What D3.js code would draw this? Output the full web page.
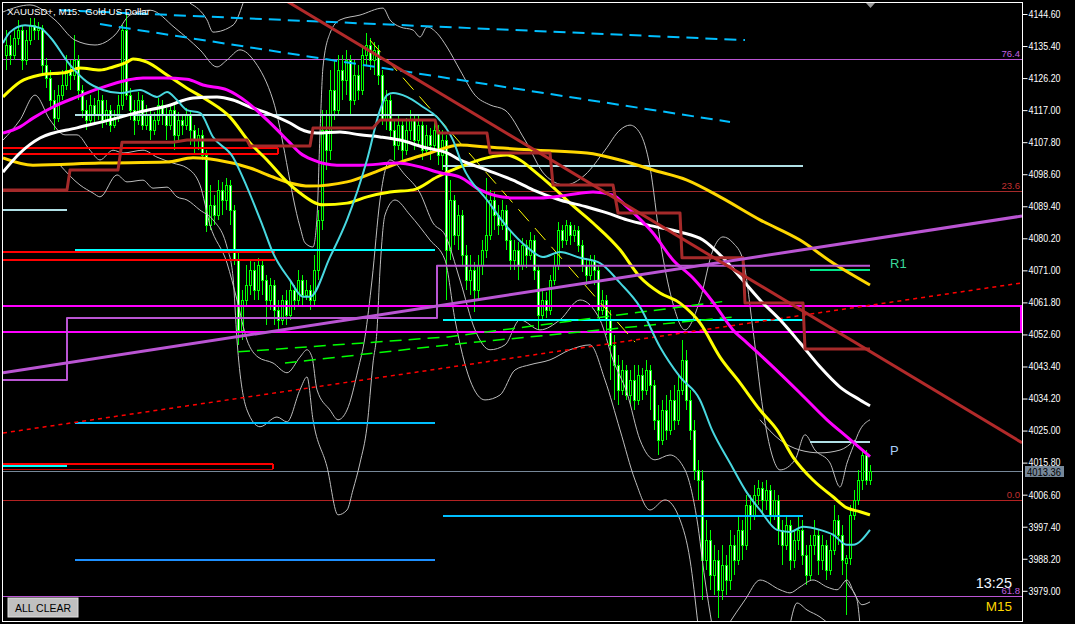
<!DOCTYPE html>
<html><head><meta charset="utf-8">
<script src="https://cdn.jsdelivr.net/npm/d3@7"></script>
<style>body{margin:0;background:#000;overflow:hidden}svg{display:block}</style>
</head><body>
<svg id="c" width="1075" height="624"></svg>
<script>
// ---- DATA ----
const title = "XAUUSD+, M15:  Gold US Dollar";
const priceTicks = [4144.60,4135.40,4126.20,4117.00,4107.80,4098.60,4089.40,4080.20,4071.00,4061.80,4052.60,4043.40,4034.20,4025.00,4015.80,4006.60,3997.40,3988.20,3979.00];
const lastPrice = 4013.36;
// candles: [open, high, low, close]
const candles = [
[4132.8,4140.0,4128.5,4135.7],[4135.7,4138.6,4130.0,4132.8],[4132.8,4140.0,4131.4,4137.7],[4137.7,4142.9,4135.7,4140.0],
[4140.0,4141.4,4128.5,4131.4],[4131.4,4140.0,4130.0,4137.1],[4137.1,4143.4,4135.7,4141.4],[4141.4,4143.4,4137.1,4140.0],
[4140.0,4142.3,4137.1,4140.6],[4140.6,4141.4,4127.1,4130.0],[4130.0,4132.0,4123.3,4126.2],[4126.2,4128.5,4117.0,4119.9],
[4119.9,4122.8,4111.3,4114.7],[4114.7,4124.2,4113.6,4121.3],[4121.3,4128.5,4119.9,4124.2],[4124.2,4132.8,4122.8,4128.5],
[4128.5,4131.4,4122.8,4127.1],[4127.1,4138.6,4125.6,4131.4],[4131.4,4132.8,4119.9,4122.8],[4122.8,4124.2,4114.7,4117.0],
[4117.0,4119.9,4111.3,4114.2],[4114.2,4121.3,4112.7,4118.5],[4118.5,4120.5,4113.6,4115.6],[4115.6,4122.8,4114.2,4119.9],
[4119.9,4121.3,4111.9,4114.2],[4114.2,4119.9,4112.7,4117.0],[4117.0,4118.5,4110.7,4112.7],[4112.7,4117.0,4111.9,4114.7],
[4114.7,4121.3,4113.6,4118.5],[4118.5,4141.4,4117.0,4140.0],[4140.0,4144.3,4119.9,4121.3],[4121.3,4123.3,4114.2,4117.0],
[4117.0,4119.9,4109.9,4114.2],[4114.2,4122.2,4112.7,4119.9],[4119.9,4121.3,4111.3,4112.7],[4112.7,4118.5,4111.3,4115.6],
[4115.6,4117.0,4108.4,4111.3],[4111.3,4116.5,4109.9,4114.2],[4114.2,4120.5,4112.7,4118.5],[4118.5,4119.9,4112.7,4115.6],
[4115.6,4117.6,4108.4,4112.7],[4112.7,4118.5,4111.3,4117.0],[4117.0,4118.5,4105.5,4109.9],[4109.9,4116.5,4108.4,4114.2],
[4114.2,4115.6,4109.9,4112.7],[4112.7,4117.6,4111.3,4115.6],[4115.6,4117.0,4107.0,4111.3],[4111.3,4112.7,4104.1,4108.4],
[4108.4,4111.9,4105.5,4109.9],[4109.9,4111.3,4102.7,4104.1],[4104.1,4105.5,4082.0,4084.0],[4084.0,4095.5,4082.6,4089.8],
[4089.8,4092.6,4084.0,4086.9],[4086.9,4096.9,4085.5,4094.1],[4094.1,4096.4,4086.9,4091.2],[4091.2,4097.5,4088.3,4095.5],
[4095.5,4096.9,4084.0,4088.3],[4088.3,4089.8,4072.6,4074.0],[4074.0,4076.9,4049.6,4053.9],[4053.9,4065.4,4051.0,4062.5],
[4062.5,4072.6,4061.1,4066.8],[4066.8,4074.0,4063.9,4071.1],[4071.1,4073.4,4062.5,4065.4],[4065.4,4074.6,4062.5,4072.6],
[4072.6,4074.0,4063.9,4068.2],[4068.2,4069.7,4055.3,4062.5],[4062.5,4068.8,4059.6,4066.8],[4066.8,4068.2,4055.3,4059.6],
[4059.6,4062.5,4053.9,4056.8],[4056.8,4063.9,4055.3,4062.5],[4062.5,4065.4,4055.3,4058.2],[4058.2,4067.7,4056.8,4065.4],
[4065.4,4066.8,4059.6,4062.5],[4062.5,4071.1,4061.1,4068.2],[4068.2,4069.7,4061.1,4063.9],[4063.9,4068.2,4062.5,4065.4],
[4065.4,4066.8,4059.6,4062.5],[4062.5,4075.4,4061.1,4071.1],[4071.1,4088.3,4068.2,4085.5],[4085.5,4117.0,4082.6,4111.3],
[4111.3,4117.0,4099.8,4105.5],[4105.5,4128.5,4102.7,4122.8],[4122.8,4131.4,4114.2,4117.0],[4117.0,4132.8,4115.6,4128.5],
[4128.5,4132.8,4119.9,4125.6],[4125.6,4134.3,4121.3,4131.4],[4131.4,4132.8,4115.6,4119.9],[4119.9,4131.4,4118.5,4127.1],
[4127.1,4130.0,4119.9,4122.8],[4122.8,4135.7,4121.3,4132.8],[4132.8,4139.1,4130.0,4135.7],[4135.7,4137.7,4128.5,4131.4],
[4131.4,4136.5,4127.1,4134.3],[4134.3,4135.7,4124.2,4127.1],[4127.1,4128.5,4112.7,4114.2],[4114.2,4122.8,4111.3,4119.9],
[4119.9,4121.3,4108.4,4111.3],[4111.3,4114.2,4102.7,4107.0],[4107.0,4115.6,4105.5,4112.7],[4112.7,4114.2,4102.7,4105.5],
[4105.5,4114.7,4104.1,4111.3],[4111.3,4117.0,4108.4,4114.2],[4114.2,4115.6,4105.5,4108.4],[4108.4,4115.6,4107.0,4112.7],
[4112.7,4114.2,4102.7,4105.5],[4105.5,4112.7,4104.1,4109.9],[4109.9,4111.9,4102.7,4107.0],[4107.0,4114.2,4105.5,4111.3],
[4111.3,4112.7,4101.2,4104.1],[4104.1,4111.3,4099.8,4108.4],[4108.4,4109.9,4062.5,4076.9],[4076.9,4096.9,4074.0,4091.2],
[4091.2,4092.6,4078.3,4081.2],[4081.2,4089.8,4076.9,4086.9],[4086.9,4088.3,4072.6,4075.4],[4075.4,4078.3,4065.4,4068.2],
[4068.2,4075.4,4063.9,4071.1],[4071.1,4073.4,4059.0,4065.4],[4065.4,4075.4,4062.5,4072.6],[4072.6,4079.7,4069.7,4076.9],
[4076.9,4097.5,4074.6,4081.2],[4081.2,4094.1,4079.7,4091.2],[4091.2,4093.5,4082.6,4086.9],[4086.9,4089.8,4081.2,4084.0],
[4084.0,4091.2,4082.6,4088.3],[4088.3,4089.8,4076.9,4079.7],[4079.7,4082.6,4071.1,4074.0],[4074.0,4079.7,4071.1,4076.9],
[4076.9,4079.1,4068.2,4072.6],[4072.6,4080.3,4071.1,4078.3],[4078.3,4079.7,4071.7,4075.4],[4075.4,4082.0,4074.0,4079.7],
[4079.7,4081.2,4068.2,4071.1],[4071.1,4072.6,4053.9,4058.2],[4058.2,4065.4,4056.8,4062.5],[4062.5,4064.8,4057.3,4059.6],
[4059.6,4069.7,4058.2,4068.2],[4068.2,4075.4,4066.8,4072.6],[4072.6,4084.9,4071.1,4082.6],[4082.6,4084.0,4077.4,4079.7],
[4079.7,4085.5,4078.3,4084.0],[4084.0,4084.9,4078.3,4081.2],[4081.2,4084.0,4079.1,4082.6],[4082.6,4083.7,4076.3,4078.3],
[4078.3,4079.7,4070.5,4072.6],[4072.6,4074.6,4066.8,4069.7],[4069.7,4075.4,4068.2,4074.0],[4074.0,4075.4,4066.8,4071.1],
[4071.1,4072.6,4057.3,4059.6],[4059.6,4065.4,4058.2,4062.5],[4062.5,4063.9,4052.5,4056.8],[4056.8,4059.6,4039.5,4049.6],
[4049.6,4052.5,4033.8,4043.9],[4043.9,4046.7,4032.4,4036.7],[4036.7,4045.3,4035.2,4042.4],[4042.4,4043.9,4033.8,4035.2],
[4035.2,4042.4,4032.4,4039.5],[4039.5,4043.9,4030.9,4033.8],[4033.8,4043.9,4032.4,4041.0],[4041.0,4043.0,4033.8,4036.7],
[4036.7,4045.3,4035.2,4042.4],[4042.4,4043.9,4030.9,4038.1],[4038.1,4039.5,4025.2,4028.1],[4028.1,4032.4,4018.0,4022.3],
[4022.3,4033.8,4020.9,4030.9],[4030.9,4035.2,4022.3,4025.2],[4025.2,4036.7,4023.8,4033.8],[4033.8,4038.1,4025.2,4028.1],
[4028.1,4041.0,4026.6,4036.7],[4036.7,4051.0,4035.2,4045.3],[4045.3,4048.2,4030.9,4033.8],[4033.8,4036.7,4022.3,4025.2],
[4025.2,4028.1,4010.8,4013.7],[4013.7,4016.6,4005.1,4010.8],[4010.8,4013.7,3976.4,3987.9],[3987.9,3999.4,3985.0,3993.6],
[3993.6,3996.5,3979.3,3983.6],[3983.6,3992.2,3977.8,3987.9],[3987.9,3990.8,3971.2,3979.3],[3979.3,3992.2,3976.4,3986.5],
[3986.5,3989.3,3977.8,3982.1],[3982.1,3996.5,3979.3,3992.2],[3992.2,3995.1,3983.6,3987.9],[3987.9,4000.8,3986.5,3996.5],
[3996.5,3999.4,3987.9,3992.2],[3992.2,4006.5,3990.8,4003.7],[4003.7,4006.5,3996.5,4000.8],[4000.8,4009.4,3999.4,4006.5],
[4006.5,4010.8,4003.7,4008.6],[4008.6,4010.3,4000.8,4005.1],[4005.1,4010.8,4002.2,4008.0],[4008.0,4009.4,3997.9,4000.8],
[4000.8,4008.0,3999.4,4005.1],[4005.1,4006.5,3992.2,3996.5],[3996.5,3999.4,3986.5,3992.2],[3992.2,4000.8,3990.8,3997.9],
[3997.9,3999.4,3985.0,3987.9],[3987.9,3996.5,3985.6,3993.6],[3993.6,4000.8,3990.8,3996.5],[3996.5,3999.4,3986.5,3989.3],
[3989.3,3992.2,3980.7,3983.6],[3983.6,3995.1,3982.1,3992.2],[3992.2,3999.4,3989.3,3995.1],[3995.1,3996.5,3983.6,3987.9],
[3987.9,3995.1,3985.0,3992.2],[3992.2,3993.6,3982.1,3985.0],[3985.0,3995.1,3983.6,3990.8],[3990.8,4003.7,3989.3,3999.4],
[3999.4,4000.8,3992.2,3995.1],[3995.1,3997.9,3983.6,3987.9],[3987.0,3989.3,3972.1,3988.4],[3988.4,4003.7,3986.5,4000.8],
[4000.8,4008.0,3999.4,4005.1],[4005.1,4013.7,4003.7,4010.8],[4010.8,4019.4,4008.0,4018.0],[4018.0,4019.4,4009.4,4010.8],
[4010.8,4015.1,4009.4,4013.36]
];
// moving averages: [bar index, price]
const maCyan = [[-0.75,4136.3],[1,4139.4],[4.75,4141.4],[8.5,4140.6],[11,4138.0],[16,4130.0],[20.25,4125.1],[24.25,4122.8],[28.5,4121.9],[33.5,4122.8],[37.75,4120.8],[40.25,4122.2],[42.75,4119.9],[45.25,4117.0],[48.5,4116.2],[51.75,4109.3],[56.75,4103.5],[60.25,4094.9],[64.25,4083.5],[66.75,4076.0],[71,4068.2],[74.25,4063.4],[76,4063.4],[81,4074.8],[85.25,4085.5],[90.25,4102.7],[93.5,4117.0],[95.25,4121.3],[96.75,4121.9],[100.25,4120.8],[104.25,4117.9],[107.75,4115.0],[111.75,4108.4],[114.25,4100.7],[120.25,4091.2],[125.25,4083.5],[130.25,4077.7],[134.25,4074.8],[138.5,4076.3],[143.5,4074.6],[148.5,4073.1],[153.5,4067.4],[158.5,4060.5],[163.5,4049.0],[168.5,4040.4],[173.5,4033.8],[176.5,4025.2],[181,4015.7],[185.25,4007.1],[188.5,4002.2],[192.75,3996.5],[196,3995.9],[199.25,3997.4],[203.5,3996.5],[206.75,3995.1],[210.25,3992.2],[211.75,3992.2],[216,3996.5]];
const maYellow = [[-0.75,4120.8],[3.5,4125.1],[8.5,4127.1],[15.25,4127.9],[18.5,4129.1],[23.5,4128.5],[26.75,4129.4],[30.25,4130.8],[31.75,4131.7],[35.25,4130.8],[40.25,4127.1],[45.25,4123.3],[50.25,4119.9],[56,4115.0],[61,4107.6],[65.25,4102.7],[70.25,4096.4],[73.5,4093.2],[79.25,4089.8],[85.25,4090.3],[90.25,4092.1],[96,4093.5],[101.75,4094.1],[107.75,4097.8],[113.5,4100.7],[120.25,4103.3],[125.25,4104.1],[128.5,4102.7],[131.75,4099.8],[136.75,4094.9],[141,4090.3],[146.75,4084.6],[153.5,4076.9],[158.5,4069.1],[163.5,4064.5],[168.5,4061.6],[173.5,4055.9],[178.5,4046.1],[183.5,4038.7],[188.5,4030.9],[192.75,4025.2],[196.75,4017.4],[201.75,4010.8],[206.75,4006.0],[210.25,4002.8],[213.5,4001.7],[216,4000.8]];
const maGold = [[-0.75,4103.3],[6.75,4101.2],[23.5,4101.8],[40.25,4102.1],[46.75,4103.3],[52.75,4102.7],[61,4100.4],[66.75,4097.8],[71,4096.1],[76,4095.2],[85.25,4096.4],[93.5,4099.8],[100.25,4102.7],[106,4104.7],[113.5,4107.0],[120.25,4106.4],[132.75,4105.5],[145.25,4104.7],[153.5,4102.7],[161.75,4099.8],[170.25,4096.9],[178.5,4092.1],[188.5,4085.5],[198.5,4079.7],[206.75,4073.1],[216,4066.8]];
const maMagenta = [[-0.75,4110.4],[3.5,4112.2],[6.75,4114.7],[11.75,4117.9],[17.75,4120.8],[23.5,4123.3],[30.25,4125.6],[34.25,4126.2],[39.25,4126.2],[45.25,4125.9],[49.25,4124.2],[55.25,4122.8],[60.25,4119.3],[65.25,4114.2],[71,4107.6],[73.5,4104.7],[76.75,4102.7],[82.75,4101.2],[88.5,4101.2],[97.75,4101.8],[103.5,4100.7],[108.5,4099.0],[113.5,4097.8],[118.5,4094.1],[126.75,4091.8],[133.5,4091.8],[140.25,4092.6],[146.75,4093.5],[151.75,4092.6],[155.25,4089.2],[161.75,4081.7],[166.75,4074.0],[171.75,4068.8],[176.75,4061.9],[181.75,4053.9],[185.25,4050.2],[191.75,4043.3],[198.5,4035.8],[205.25,4028.1],[210.25,4023.2],[216,4017.5]];
const maWhite = [[-0.75,4099.2],[3.5,4104.7],[8.5,4109.0],[17.75,4111.9],[26,4114.2],[33.5,4116.5],[40.25,4118.2],[46.75,4120.5],[52.75,4120.8],[56.75,4119.9],[61,4117.9],[65.25,4116.2],[71,4113.3],[73.5,4111.6],[77.75,4110.4],[83.5,4110.7],[88.5,4109.9],[93.5,4109.3],[98.5,4108.4],[104.25,4106.4],[110.25,4104.7],[113.5,4102.7],[120.25,4099.8],[126.75,4096.9],[131.75,4094.1],[138.5,4091.2],[145.25,4089.2],[150.25,4087.5],[155.25,4085.5],[161.75,4083.7],[168.5,4082.0],[174.25,4079.7],[179.25,4074.6],[183.5,4069.1],[188.5,4062.5],[193.5,4056.8],[198.5,4050.2],[203.5,4043.3],[208.5,4037.5],[213.5,4033.8],[216,4032.1]];
// Bollinger-style bands (thin grey): [bar index, price]
const bandUpper = [[-0.75,4145.2],[6,4147.2],[12.25,4142.9],[17.25,4137.1],[22.25,4135.7],[27.25,4138.6],[31,4144.3],[36,4145.7],[42.25,4140.6],[48.5,4134.3],[52.75,4129.4],[55.25,4131.4],[58.5,4134.3],[62.25,4130.8],[66.75,4119.9],[73.5,4083.5],[74.75,4078.9],[76.75,4077.7],[77.75,4086.3],[78.5,4110.4],[79.25,4129.4],[81,4139.1],[83.5,4142.9],[88.5,4144.3],[94.25,4146.3],[96,4142.9],[98.5,4140.9],[101.75,4140.0],[103.5,4138.0],[105.25,4140.9],[107.75,4139.1],[110.25,4135.1],[113.5,4128.5],[117.25,4121.3],[121,4118.5],[124.75,4117.0],[129.75,4108.4],[134.75,4098.4],[139.75,4095.5],[144.75,4098.4],[149.75,4105.5],[153.5,4111.3],[156,4112.7],[158.5,4110.4],[161,4100.7],[163.5,4079.7],[166.5,4062.5],[169.75,4053.9],[173.5,4062.5],[176.75,4076.9],[179.25,4080.6],[181.75,4078.9],[184.25,4074.0],[186.75,4053.9],[189.25,4030.9],[191.5,4018.0],[193.5,4013.7],[197.25,4016.6],[199.75,4023.8],[202.25,4019.4],[206,4015.7],[208.5,4008.8],[210.25,4015.7],[211.75,4020.3],[213.5,4025.2],[216,4028.1]];
const bandUpperOuterA = [[46,4147.7],[50.25,4142.9],[51.75,4139.4],[56.75,4141.4],[59.25,4147.7]];
const bandUpperOuterB = [[188.5,4028.1],[193.5,4022.3],[198.5,4019.4],[203.5,4018.6],[208.5,4019.4],[212.25,4022.3]];
const bandLower = [[-0.75,4108.4],[3.5,4114.2],[7.25,4121.3],[11,4114.2],[14.75,4109.9],[17.75,4109.9],[21,4105.5],[23.5,4102.7],[26.75,4105.5],[29.25,4104.7],[34.25,4105.5],[37.75,4103.5],[41.75,4101.8],[45.25,4100.4],[48.5,4095.5],[51,4084.0],[55.25,4073.1],[57.75,4062.5],[60.25,4051.0],[63,4046.1],[66.75,4044.4],[70.25,4041.6],[73.5,4046.1],[75.25,4048.2],[76.5,4046.1],[77.75,4036.7],[81,4030.9],[83,4028.1],[85.25,4030.9],[88,4042.4],[89.75,4051.9],[91.5,4068.2],[93.5,4091.2],[96,4102.7],[99.75,4098.4],[103.5,4093.2],[106.75,4084.6],[109.75,4081.2],[113.5,4068.2],[117.25,4053.9],[121,4048.2],[124.75,4049.6],[128.5,4056.8],[133.5,4053.9],[138.5,4056.8],[143.5,4062.5],[148.5,4056.8],[151.75,4045.3],[155.25,4035.8],[158.5,4022.3],[162.25,4016.6],[166,4018.0],[169.75,4013.7],[172.75,3999.4],[174.75,3982.1],[176.5,3969.2]];
const bandLowerB = [[180.5,3969.2],[184.75,3976.4],[188.5,3982.1],[193.5,3979.3],[196,3978.4],[198.5,3980.1],[201.75,3982.1],[205.25,3980.1],[207.75,3979.3],[210.25,3982.1],[212.25,3977.8],[214,3975.0],[216,3975.8]];
const bandLowerOuter = [[13.5,4101.2],[18.5,4095.5],[21.75,4093.2],[23.5,4092.1],[27.75,4098.4],[30.25,4096.4],[34.25,4096.9],[36.75,4094.6],[40.25,4094.9],[42.75,4092.1],[45.25,4091.2],[48.5,4088.3],[51.75,4085.5],[55.25,4077.7],[56.75,4069.1],[57.75,4051.0],[60.25,4030.9],[63.5,4026.1],[67.75,4028.9],[70.25,4027.5],[73.5,4036.7],[75.25,4040.4],[76.75,4028.1],[80.25,4014.6],[83,4000.8],[85.25,4002.2],[86.75,4008.0],[88.5,4015.7],[90.25,4026.1],[91.75,4044.4],[92.75,4053.9],[93.5,4071.1],[94.75,4086.9],[97.25,4091.2],[101,4086.9],[106,4079.7],[109.75,4074.0],[112.25,4056.8],[116,4039.5],[119.75,4033.8],[123.5,4035.2],[127.25,4042.4],[131,4043.9],[136,4045.3],[141,4048.2],[146,4049.6],[149.75,4039.5],[153.5,4025.2],[157.25,4010.8],[161,4002.2],[164.75,4005.1],[168.5,3999.4],[171,3987.9],[173,3969.2]];
const bandLowerOuterB = [[196,3969.2],[197.75,3975.5],[200.25,3973.5],[203.5,3971.5],[206,3969.2]];
const bandLowerOuterC = [[209.75,3982.1],[211,3980.1],[212.75,3976.4],[213.5,3969.2]];
// step line (trailing level)
const stepBrown = [[-0.75,4094.1],[15.25,4094.1],[16,4099.8],[28,4099.8],[29,4107.8],[41.75,4107.8],[45.25,4108.4],[60.25,4108.4],[61,4106.7],[76,4106.7],[76.75,4111.9],[91.75,4111.9],[93.5,4114.2],[107.25,4114.2],[108,4110.4],[120.25,4110.4],[121,4104.7],[136,4104.7],[136.75,4095.5],[151.75,4095.5],[153,4087.5],[168.5,4087.5],[169,4074.6],[184.25,4074.6],[184.75,4061.6],[199.25,4061.6],[199.75,4048.4],[216,4048.4]];
const stepViolet = [[-0.75,4039.5],[15.25,4039.5],[15.25,4057.3],[107.75,4057.3],[107.75,4072.3],[216,4072.3]];
// trend lines [[i1,p1],[i2,p2]]
const trendDarkRed = [[69.75,4148.6],[254,4021.5]];
const trendViolet = [[-0.75,4041.6],[254,4086.6]];
const trendRedDotted = [[-0.75,4024.3],[254,4067.4]];
const trendBlue1 = [[13.5,4145.7],[184.75,4137.1]];
const trendBlue2 = [[23.5,4141.7],[181,4113.6]];
const trendYellowThin = [[91,4137.1],[157.25,4050.4]];
const greenDashA = [[58,4047.6],[110.5,4051.9],[180.25,4062.2]];
const greenDashB = [[69.75,4044.4],[110.5,4049.6],[181.75,4057.6]];
// horizontal levels [fromIndex, toIndex, price]
const levelsPowder = [[17.25,107.25,4115.6],[-0.75,15.25,4088.3],[109.25,199.25,4101.0],[201,216,4021.8]];
const levelsAqua = [[17.25,107.25,4076.9],[109.25,199.25,4056.8],[-0.75,15.25,4014.9]];
const levelsSky = [[17.25,107.25,4027.2],[109.25,199.25,4000.5]];
const levelsDodger = [[17.25,107.25,3987.9]];
const levelsRed = [[-0.75,68,4106.1],[-0.75,68,4104.4],[-0.75,67.25,4076.3],[-0.75,67.25,4074.0],[-0.75,66.75,4015.4]];
const levelsMagenta = [[-0.75,254,4060.8],[-0.75,254,4053.3]];
const levelR1 = [[201,216,4071.0]];
const fibLevels = [["76.4",4131.7],["23.6",4093.8],["0.0",4005.1],["61.8",3977.5]];
const pivotLabels = [["R1",4073.0],["P",4019.5]];
const clockText = "13:25", tfText = "M15", buttonText = "ALL CLEAR";

// ---- DRAW ----
const W=1075,H=624, L=3, R=1022, T=3, B=621;
const svg = d3.select("#c");
svg.append("rect").attr("width",W).attr("height",H).attr("fill","#000");
const x = d3.scaleLinear().domain([0,216]).range([6,870]);
const y = d3.scaleLinear().domain([3979.0,4144.6]).range([590.8,14]);
svg.append("clipPath").attr("id","clip").append("rect").attr("x",L).attr("y",T).attr("width",R-L).attr("height",B-T);
const g = svg.append("g").attr("clip-path","url(#clip)");
const FONT = "'Liberation Sans', Arial, sans-serif";

function seg(p, color, w, dash){
  const l = g.append("line")
   .attr("x1",x(p[0][0])).attr("y1",y(p[0][1]))
   .attr("x2",x(p[1][0])).attr("y2",y(p[1][1]))
   .attr("stroke",color).attr("stroke-width",w);
  if(dash) l.attr("stroke-dasharray",dash);
  return l;
}
function hlev(arr,color,w){
  arr.forEach(d=>{
    const yy = Math.round(y(d[2])) + (w%2?0.5:0);
    g.append("line").attr("x1",x(d[0])).attr("x2",x(d[1])).attr("y1",yy).attr("y2",yy)
     .attr("stroke",color).attr("stroke-width",w).attr("shape-rendering","crispEdges");
  });
}
function poly(arr,color,w,curve,dash){
  const ln = d3.line().x(d=>x(d[0])).y(d=>y(d[1])).curve(curve||d3.curveLinear);
  const p = g.append("path").attr("d",ln(arr)).attr("fill","none").attr("stroke",color).attr("stroke-width",w).attr("stroke-linejoin","round");
  if(dash) p.attr("stroke-dasharray",dash);
  return p;
}

// fib thin lines (background)
const fibColors = {"76.4":"#ba55d3","23.6":"#a52a2a","0.0":"#b22222","61.8":"#ba55d3"};
fibLevels.forEach(f=>{
  const yy = Math.round(y(f[1]))+0.5;
  g.append("line").attr("x1",L).attr("x2",R).attr("y1",yy).attr("y2",yy).attr("stroke",fibColors[f[0]]).attr("stroke-width",1);
});
// current price line
{ const yy = Math.round(y(lastPrice))+0.5;
  g.append("line").attr("x1",L).attr("x2",R).attr("y1",yy).attr("y2",yy).attr("stroke","#778899").attr("stroke-width",1); }

// candles
const cg = g.append("g").attr("shape-rendering","crispEdges");
candles.forEach((d,i)=>{
  const [o,h,l,c] = d;
  const cx = Math.round(x(i));
  const yh = Math.round(y(h)), yl = Math.round(y(l));
  cg.append("rect").attr("x",cx).attr("y",yh).attr("width",1).attr("height",Math.max(1,yl-yh)).attr("fill","#00ff00");
  let top = Math.round(y(Math.max(o,c))), bot = Math.round(y(Math.min(o,c)));
  if(bot-top<1) bot = top+1;
  cg.append("rect").attr("x",cx-1).attr("y",top).attr("width",3).attr("height",bot-top+1).attr("fill","#00ff00");
  if(bot-top>=2) cg.append("rect").attr("x",cx).attr("y",top+1).attr("width",1).attr("height",bot-top-1).attr("fill", c<o?"#ffffff":"#000000");
});

// grey bands
[bandUpper,bandUpperOuterA,bandUpperOuterB,bandLower,bandLowerB,bandLowerOuter,bandLowerOuterB,bandLowerOuterC]
  .forEach(b=>poly(b,"#bdbdbd",1,d3.curveMonotoneX));

// objects: horizontal levels
hlev(levelsPowder,"#b0e0e6",2);
hlev(levelsAqua,"#00ffff",2);
hlev(levelsSky,"#00bfff",2);
hlev(levelsDodger,"#1e90ff",2);
hlev(levelsRed,"#ff0000",2);
hlev(levelsMagenta,"#ff00ff",2);
hlev(levelR1,"#00e68a",2);
[[68,4106.1,4104.4],[66.75,4015.4,4014.0]].forEach(v=>{
  g.append("line").attr("x1",x(v[0])).attr("x2",x(v[0])).attr("y1",y(v[1])).attr("y2",y(v[2])).attr("stroke","#ff0000").attr("stroke-width",2);
});
g.append("line").attr("x1",L).attr("x2",x(66.75)).attr("y1",Math.round(y(4014.0))+0.5).attr("y2",Math.round(y(4014.0))+0.5).attr("stroke","#c00000").attr("stroke-width",1);
g.append("line").attr("x1",R-1).attr("x2",R-1).attr("y1",y(4060.8)).attr("y2",y(4053.3)).attr("stroke","#ff00ff").attr("stroke-width",2);

// trend lines
seg(trendBlue1,"#00bfff",2,"12,7");
seg(trendBlue2,"#00bfff",2,"12,7");
seg(trendRedDotted,"#ff0000",1.5,"4,4");
poly(greenDashA,"#00ff00",1.5,null,"12,7");
poly(greenDashB,"#00ff00",1.5,null,"12,7");
seg(trendYellowThin,"#ffff00",1,"16,9");

// indicators
poly(maGold,"#ffd700",3,d3.curveMonotoneX);
poly(maYellow,"#ffff00",3,d3.curveMonotoneX);
poly(maWhite,"#ffffff",3,d3.curveMonotoneX);
poly(maMagenta,"#ff00ff",3,d3.curveMonotoneX);
poly(maCyan,"#48d8e0",2,d3.curveMonotoneX);
poly(stepBrown,"#a52a2a",3);
poly(stepViolet,"#ba55d3",2);
seg(trendViolet,"#ba55d3",3);
seg(trendDarkRed,"#b22a2a",3);

// pivot labels
pivotLabels.forEach(p=>{
  g.append("text").attr("x",890).attr("y",y(p[1])+5).text(p[0])
   .attr("font-family",FONT).attr("font-size",13)
   .attr("fill", p[0]==="R1"?"#3ad89a":"#a8d0f8");
});
// fib labels
fibLevels.forEach(f=>{
  svg.append("text").attr("x",R-2).attr("y",Math.round(y(f[1]))-2).attr("text-anchor","end").text(f[0])
   .attr("font-family",FONT).attr("font-size",9.5).attr("fill",(f[0]==="23.6"||f[0]==="0.0")?"#c03030":"#c060e0");
});

// frame
svg.append("rect").attr("x",L-0.5).attr("y",T-0.5).attr("width",R-L+1).attr("height",B-T+1).attr("fill","none").attr("stroke","#fff").attr("stroke-width",1);

// axis
const axis = d3.axisRight(y).tickValues(priceTicks).tickFormat(d3.format(".2f")).tickSize(5).tickPadding(1);
const ag = svg.append("g").attr("transform",`translate(${R+0.5},0)`).call(axis);
ag.select(".domain").remove();
ag.selectAll(".tick line").attr("stroke","#fff");
ag.selectAll(".tick text").attr("fill","#fff").attr("font-family",FONT).attr("font-size",10.5)
  .attr("textLength",32).attr("lengthAdjust","spacingAndGlyphs");
// last price box
const ly = y(lastPrice);
svg.append("rect").attr("x",1025).attr("y",Math.round(ly)-5).attr("width",39).attr("height",11).attr("fill","#778899");
svg.append("text").attr("x",1027).attr("y",Math.round(ly)+4.5).text(d3.format(".2f")(lastPrice))
  .attr("font-family",FONT).attr("font-size",10.5).attr("fill","#000").attr("textLength",34).attr("lengthAdjust","spacingAndGlyphs");

// title
svg.append("text").attr("x",7).attr("y",15).text(title).attr("font-family",FONT).attr("font-size",9.7).attr("fill","#fff").style("white-space","pre");
// chart-shift marker
svg.append("path").attr("d","M866,3 L875,3 L870.5,8 Z").attr("fill","#9a9a9a");
// clock + timeframe
svg.append("text").attr("x",1012).attr("y",588).attr("text-anchor","end").text(clockText).attr("font-family",FONT).attr("font-size",14.5).attr("fill","#f0f6ff");
svg.append("text").attr("x",1012).attr("y",611).attr("text-anchor","end").text(tfText).attr("font-family",FONT).attr("font-size",13.5).attr("fill","#ffd700");
// button
svg.append("rect").attr("x",8).attr("y",598).attr("width",70).attr("height",19).attr("fill","#c0c0c0").attr("stroke","#e0e0e0").attr("stroke-width",1);
svg.append("text").attr("x",43).attr("y",611.5).attr("text-anchor","middle").text(buttonText).attr("font-family",FONT).attr("font-size",10.5).attr("fill","#000");
</script>
</body></html>
